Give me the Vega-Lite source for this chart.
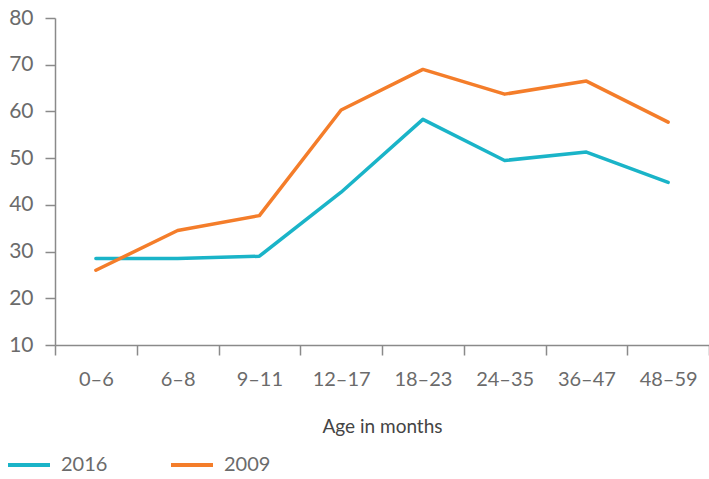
{
  "$schema": "https://vega.github.io/schema/vega-lite/v6.json",
  "width": 654,
  "height": 327,
  "autosize": "none",
  "padding": {"left": 55, "top": 18, "right": 0, "bottom": 134},
  "background": "white",
  "config": {"view": {"stroke": null}, "font": "Lato"},
  "data": {"values": [
    {"age": "0–6", "year": "2016", "value": 28.5},
    {"age": "6–8", "year": "2016", "value": 28.5},
    {"age": "9–11", "year": "2016", "value": 29.0},
    {"age": "12–17", "year": "2016", "value": 42.7},
    {"age": "18–23", "year": "2016", "value": 58.3},
    {"age": "24–35", "year": "2016", "value": 49.5},
    {"age": "36–47", "year": "2016", "value": 51.3},
    {"age": "48–59", "year": "2016", "value": 44.8},
    {"age": "0–6", "year": "2009", "value": 26.0},
    {"age": "6–8", "year": "2009", "value": 34.5},
    {"age": "9–11", "year": "2009", "value": 37.7},
    {"age": "12–17", "year": "2009", "value": 60.3},
    {"age": "18–23", "year": "2009", "value": 69.0},
    {"age": "24–35", "year": "2009", "value": 63.7},
    {"age": "36–47", "year": "2009", "value": 66.5},
    {"age": "48–59", "year": "2009", "value": 57.7}
  ]},
  "mark": {"type": "line", "strokeWidth": 3.5, "strokeCap": "round", "strokeJoin": "round"},
  "encoding": {
    "x": {
      "field": "age", "type": "ordinal", "bandPosition": 0.5,
      "sort": ["0–6", "6–8", "9–11", "12–17", "18–23", "24–35", "36–47", "48–59"],
      "scale": {"type": "band", "paddingInner": 0, "paddingOuter": 0},
      "axis": {
        "title": "Age in months", "labelAngle": 0, "tickBand": "extent",
        "domainColor": "#8a8a8a", "tickColor": "#8a8a8a", "tickSize": 10, "domainWidth": 1.5, "tickWidth": 1.5,
        "labelColor": "#6b6b6b", "labelFontSize": 20, "labelPadding": 14,
        "titleColor": "#444444", "titleFontSize": 19, "titleFontWeight": "normal", "titlePadding": 28
      }
    },
    "y": {
      "field": "value", "type": "quantitative",
      "scale": {"domain": [10, 80], "nice": false, "zero": false},
      "axis": {
        "title": null, "values": [10, 20, 30, 40, 50, 60, 70, 80], "grid": false,
        "domainColor": "#8a8a8a", "tickColor": "#8a8a8a", "tickSize": 10, "domainWidth": 1.5, "tickWidth": 1.5,
        "labelColor": "#6b6b6b", "labelFontSize": 21, "labelPadding": 12
      }
    },
    "color": {
      "field": "year", "type": "nominal",
      "sort": ["2016", "2009"],
      "scale": {"domain": ["2016", "2009"], "range": ["#1ab4c8", "#f47d2a"]},
      "legend": {
        "title": null, "orient": "none", "direction": "horizontal",
        "legendX": -49, "legendY": 424,
        "symbolType": "stroke", "symbolSize": 1764, "symbolStrokeWidth": 4,
        "labelFontSize": 20, "labelColor": "#6b6b6b", "labelOffset": 9,
        "columnPadding": 55
      }
    }
  }
}
